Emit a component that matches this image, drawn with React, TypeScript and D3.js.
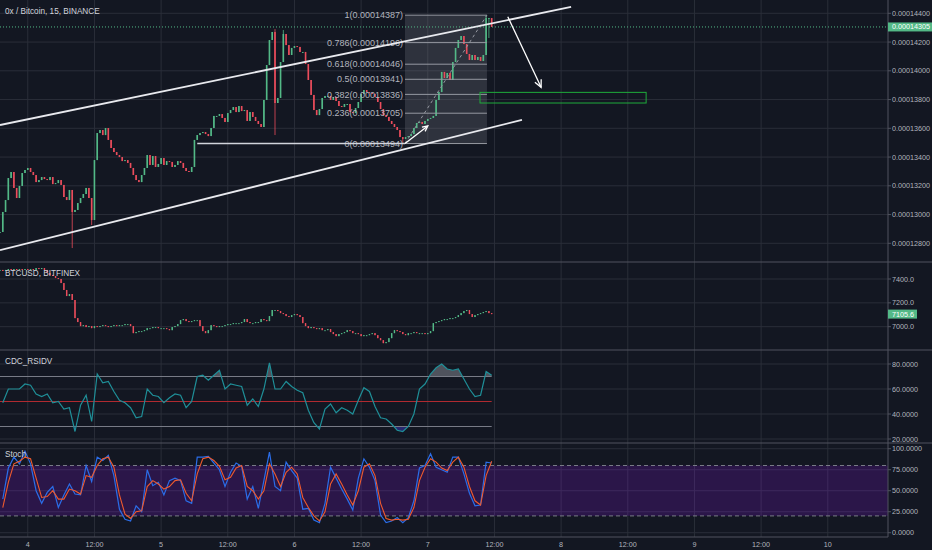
import * as d3 from 'd3'

// 0x/BTC closes, one per 30 min from day 3 19:00 (prices in 1e-8 BTC)
const mainClose = [
  12879, 13018, 13101, 13254, 13296, 13185, 13115, 13199, 13289, 13310,
  13324, 13296, 13275, 13226, 13240, 13261, 13247, 13240, 13261, 13212,
  13219, 13240, 13206, 13122, 13101, 13171, 13018, 13032, 13080, 13115,
  13143, 13185, 13115, 12962, 13379, 13567, 13588, 13553, 13602, 13519,
  13463, 13435, 13414, 13400, 13372, 13379, 13359, 13324, 13275, 13240,
  13226, 13275, 13324, 13414, 13345, 13407, 13331, 13352, 13393, 13345,
  13372, 13366, 13331, 13345, 13372, 13359, 13324, 13303, 13296, 13331,
  13519, 13553, 13567, 13574, 13560, 13546, 13602, 13686, 13686, 13699,
  13672, 13644, 13706, 13727, 13748, 13713, 13755, 13720, 13727, 13651,
  13713, 13679, 13651, 13630, 13609, 13797, 14040, 14214, 14270, 13776,
  13811, 14061, 14256, 14179, 14110, 14159, 14172, 14166, 14131, 14131,
  14047, 13936, 13832, 13727, 13692, 13734, 13811, 13825, 13825, 13797,
  13818, 13790, 13755, 13748, 13769, 13769, 13713, 13706, 13741, 13783,
  13839, 13866, 13852, 13846, 13839, 13818, 13783, 13734, 13692, 13679,
  13651, 13630, 13609, 13588, 13539, 13526, 13539, 13546, 13560, 13602,
  13637, 13644, 13630, 13651, 13665, 13672, 13686, 13797, 13852, 13992,
  13950, 13985, 13936, 14061, 14159, 14214, 14242, 14186, 14117, 14075,
  14110, 14075, 14096, 14068, 14110, 14367, 14367, 14305,
]
// long wicks worth keeping
const mainSpikes = [
  { i: 26, low: 12767 },
  { i: 33, low: 12927 },
  { i: 70, low: 13500 },
  { i: 99, high: 14290, low: 13553 },
  { i: 102, high: 14284 },
  { i: 145, low: 13494 },
  { i: 175, high: 14387 },
  { i: 176, low: 14228 },
]

const btcClose = [
  7476, 7467, 7476, 7484, 7476, 7484, 7476, 7484, 7476, 7484,
  7476, 7484, 7476, 7492, 7484, 7492, 7476, 7450, 7434, 7425,
  7408, 7400, 7366, 7308, 7257, 7274, 7224, 7072, 7039, 7005,
  7013, 6997, 7005, 6988, 7005, 6997, 7005, 7013, 7005, 6997,
  7005, 7013, 7005, 7013, 7013, 7022, 7022, 7005, 6946, 6955,
  6963, 6963, 6971, 6988, 6988, 6997, 6997, 6988, 6988, 6988,
  6980, 6971, 6997, 7005, 7022, 7055, 7064, 7047, 7039, 7047,
  7055, 7055, 7005, 6963, 6946, 6971, 7013, 7005, 6997, 7005,
  7005, 7013, 7022, 7022, 7030, 7030, 7030, 7039, 7064, 7039,
  7030, 7030, 7039, 7039, 7064, 7055, 7047, 7089, 7140, 7140,
  7131, 7114, 7106, 7089, 7081, 7097, 7106, 7097, 7081, 7030,
  7005, 6988, 6997, 6988, 6980, 6988, 6971, 6971, 6980, 6955,
  6938, 6921, 6938, 6946, 6955, 6971, 6963, 6946, 6946, 6938,
  6921, 6929, 6929, 6938, 6946, 6929, 6904, 6887, 6862, 6871,
  6904, 6946, 6971, 6963, 6955, 6938, 6929, 6946, 6946, 6955,
  6946, 6946, 6946, 6938, 6946, 6963, 7030, 7039, 7047, 7055,
  7064, 7064, 7072, 7072, 7081, 7097, 7114, 7131, 7140, 7106,
  7081, 7097, 7106, 7114, 7123, 7131, 7114, 7105.6,
]

// indicators, one per hour (at :30)
const rsiValues = [
  49, 60, 60, 60, 64, 63, 56, 54, 56, 49, 50, 44, 45, 26, 47, 55, 34, 72, 65, 66,
  58, 51, 49, 45, 37, 38, 60, 55, 54, 49, 53, 56, 55, 45, 50, 70, 71, 67, 71, 75,
  60, 64, 63, 62, 47, 52, 46, 60, 81, 60, 60, 66, 62, 59, 57, 43, 33, 28, 44, 48,
  41, 45, 43, 40, 51, 61, 58, 46, 37, 36, 32, 27, 26, 30, 40, 60, 64, 72, 77, 80,
  76, 75, 76, 68, 60, 54, 55, 74, 71,
]
const stochK = [
  40, 77, 90, 82, 97, 82, 50, 35, 48, 55, 30, 45, 58, 46, 45, 80, 61, 90, 86, 92,
  68, 28, 16, 14, 32, 25, 75, 56, 60, 45, 62, 65, 62, 38, 35, 90, 90, 91, 83, 75,
  55, 72, 83, 79, 40, 55, 29, 62, 96, 55, 50, 84, 74, 65, 28, 29, 15, 12, 35, 78,
  65, 52, 40, 27, 65, 88, 78, 62, 21, 12, 14, 18, 12, 18, 38, 77, 80, 94, 78, 75,
  72, 90, 90, 70, 47, 32, 33, 84, 83,
]
const stochD = [
  30, 60, 82, 85, 90, 88, 65, 42, 43, 50, 40, 40, 52, 50, 46, 68, 66, 80, 88, 90,
  78, 45, 22, 17, 25, 26, 55, 62, 58, 52, 55, 62, 63, 47, 38, 70, 88, 90, 86, 79,
  63, 66, 77, 80, 55, 50, 40, 50, 82, 70, 55, 72, 78, 70, 42, 30, 20, 14, 25, 58,
  70, 58, 45, 33, 50, 78, 82, 68, 35, 17, 15, 16, 15, 16, 30, 62, 78, 88, 84, 77,
  74, 84, 90, 78, 55, 38, 33, 68, 85,
]

const priceTicks = [14400, 14200, 14000, 13800, 13600, 13400, 13200, 13000, 12800]
const btcTicks = [7400, 7200, 7000]
const rsiTicks = [80, 60, 40, 20]
const stochTicks = [100, 75, 50, 25, 0]
const timeTicks = [0, 12, 24, 36, 48, 60, 72, 84, 96, 108, 120, 132, 144]
const timeLabels = ['4', '12:00', '5', '12:00', '6', '12:00', '7', '12:00', '8', '12:00', '9', '12:00', '10']

const fibLevels = [1, 0.786, 0.618, 0.5, 0.382, 0.236, 0]
const fibPrices = [14387, 14196, 14046, 13941, 13836, 13705, 13494]

const AXIS_X = 888
const BG = '#131722'
const GRID = '#2a2e39'
const SEP = '#50535e'
const TEXT = '#b2b5be'
const UP = '#53b987'
const DOWN = '#eb4d5c'
const FONT = '"Liberation Sans", Arial, sans-serif'

// hours since day 4 00:00
const x = d3.scaleLinear([-5, 155], [0, 888.9])
const yMain = d3.scaleLinear([12670, 14492.5], [262, 0])
const yBtc = d3.scaleLinear([6804.6, 7542.6], [350, 262])
const yRsi = d3.scaleLinear([16.8, 91.2], [443, 350])
const yStoch = d3.scaleLinear([-5.1, 106.8], [537, 443])

const candleTime = (i: number) => -5 + 0.5 * i
const hourTime = (j: number) => -4.5 + j
const sat = (v: number) => (v * 1e-8).toFixed(8)

function Candles({ closes, spikes, y, bw }: any) {
  return (
    <g>
      {closes.map((c: number, i: number) => {
        const o = i === 0 ? c : closes[i - 1]
        const sp = spikes.find((s: any) => s.i === i) || {}
        const hi = Math.max(o, c, sp.high ?? -Infinity)
        const lo = Math.min(o, c, sp.low ?? Infinity)
        const col = c >= o ? UP : DOWN
        const cx = x(candleTime(i))
        const top = y(Math.max(o, c))
        return (
          <g key={i}>
            <line x1={cx} x2={cx} y1={y(hi)} y2={y(lo)} stroke={col} strokeWidth={0.8} />
            <rect x={cx - bw / 2} width={bw} y={top} height={Math.max(1, y(Math.min(o, c)) - top)} fill={col} />
          </g>
        )
      })}
    </g>
  )
}

function arrowHead(x1: number, y1: number, x2: number, y2: number, len = 7, ang = 0.45) {
  const a = Math.atan2(y2 - y1, x2 - x1)
  return `M${x2 - len * Math.cos(a - ang)},${y2 - len * Math.sin(a - ang)}L${x2},${y2}L${x2 - len * Math.cos(a + ang)},${y2 - len * Math.sin(a + ang)}`
}

// drawings on the main pane, in time / price
const channelUp = [[-5, 13623], [97.8, 14444]]
const channelLow = [[-5, 12753], [88.95, 13658]]
const supportLine = [[30.5, 13494], [67.9, 13494]]
const fibSpan = [67.9, 82.65]
const arrowUp = [[67.9, 13494], [72.0, 13616]]
const arrowDown = [[86.4, 14376], [92.4, 13885]]
const targetBox = [[81.4, 13850], [111.3, 13776]]

export default function App() {
  const rsiLine = d3.line<number>().x((_, j) => x(hourTime(j))).y((d) => yRsi(d))(rsiValues) || undefined
  const kLine = d3.line<number>().x((_, j) => x(hourTime(j))).y((d) => yStoch(d))(stochK) || undefined
  const dLine = d3.line<number>().x((_, j) => x(hourTime(j))).y((d) => yStoch(d))(stochD) || undefined
  const overArea = d3.area<number>().x((_, j) => x(hourTime(j))).y0(yRsi(70)).y1((d) => yRsi(d))(rsiValues) || undefined
  const underArea = d3.area<number>().x((_, j) => x(hourTime(j))).y0(yRsi(30)).y1((d) => yRsi(d))(rsiValues) || undefined
  const lastX = x(hourTime(rsiValues.length - 1))
  const firstX = 0

  const fx0 = x(fibSpan[0])
  const fx1 = x(fibSpan[1])
  const pt = (p: number[]) => [x(p[0]), yMain(p[1])]
  const [a1s, a1e] = [pt(arrowUp[0]), pt(arrowUp[1])]
  const [a2s, a2e] = [pt(arrowDown[0]), pt(arrowDown[1])]
  const lastMain = mainClose[mainClose.length - 1]
  const lastBtc = btcClose[btcClose.length - 1]

  const axisLabel = (y: number, t: string, key: any) => (
    <g key={key}>
      <line x1={AXIS_X} x2={AXIS_X + 3} y1={y} y2={y} stroke={SEP} />
      <text x={892} y={y} dy="0.35em" fontSize={7.2} fill={TEXT}>{t}</text>
    </g>
  )

  return (
    <>
      <style>{'body{margin:0;background:#131722}'}</style>
      <svg width={932} height={550} style={{ display: 'block', fontFamily: FONT }}>
        <defs>
          <clipPath id="mainClip"><rect x={0} y={0} width={AXIS_X} height={262} /></clipPath>
          <clipPath id="btcClip"><rect x={0} y={262} width={AXIS_X} height={88} /></clipPath>
          <clipPath id="overClip"><rect x={0} y={350} width={AXIS_X} height={yRsi(70) - 350} /></clipPath>
          <clipPath id="underClip"><rect x={0} y={yRsi(30)} width={AXIS_X} height={443 - yRsi(30)} /></clipPath>
        </defs>
        <rect width={932} height={550} fill={BG} />

        {/* grid */}
        {timeTicks.map((t) => (
          <line key={t} x1={x(t)} x2={x(t)} y1={0} y2={537} stroke={GRID} />
        ))}
        {priceTicks.map((p) => <line key={p} x1={0} x2={AXIS_X} y1={yMain(p)} y2={yMain(p)} stroke={GRID} />)}
        {btcTicks.map((p) => <line key={p} x1={0} x2={AXIS_X} y1={yBtc(p)} y2={yBtc(p)} stroke={GRID} />)}
        {rsiTicks.map((p) => <line key={p} x1={0} x2={AXIS_X} y1={yRsi(p)} y2={yRsi(p)} stroke={GRID} />)}
        {stochTicks.map((p) => <line key={p} x1={0} x2={AXIS_X} y1={yStoch(p)} y2={yStoch(p)} stroke={GRID} />)}

        {/* main pane */}
        <text x={5} y={13.5} fontSize={8.2} fill="#d1d4dc">0x / Bitcoin, 15, BINANCE</text>
        <g clipPath="url(#mainClip)">
          <rect x={fx0} width={fx1 - fx0} y={yMain(fibPrices[0])} height={yMain(fibPrices[6]) - yMain(fibPrices[0])} fill="#787b86" opacity={0.28} />
          <Candles closes={mainClose} spikes={mainSpikes} y={yMain} bw={1.6} />
          <line x1={0} x2={AXIS_X} y1={yMain(lastMain)} y2={yMain(lastMain)} stroke={UP} strokeDasharray="1,2" />
          {fibLevels.map((l, k) => (
            <g key={l}>
              <line x1={fx0} x2={fx1} y1={yMain(fibPrices[k])} y2={yMain(fibPrices[k])} stroke="#9598a1" />
              <text x={fx0 - 2} y={yMain(fibPrices[k])} dy="0.35em" textAnchor="end" fontSize={9} fill={TEXT}>
                {`${l}(${sat(fibPrices[k])})`}
              </text>
            </g>
          ))}
          <line x1={fx0} y1={yMain(fibPrices[6])} x2={fx1} y2={yMain(fibPrices[0])} stroke="#9598a1" strokeDasharray="3,3" />
          <line x1={x(channelUp[0][0])} y1={yMain(channelUp[0][1])} x2={x(channelUp[1][0])} y2={yMain(channelUp[1][1])} stroke="#e8e9ee" strokeWidth={1.8} />
          <line x1={x(channelLow[0][0])} y1={yMain(channelLow[0][1])} x2={x(channelLow[1][0])} y2={yMain(channelLow[1][1])} stroke="#e8e9ee" strokeWidth={1.8} />
          <line x1={x(supportLine[0][0])} y1={yMain(supportLine[0][1])} x2={x(supportLine[1][0])} y2={yMain(supportLine[1][1])} stroke="#d1d4dc" strokeWidth={1.5} />
          <line x1={a1s[0]} y1={a1s[1]} x2={a1e[0]} y2={a1e[1]} stroke="#ffffff" strokeWidth={1.3} />
          <path d={arrowHead(a1s[0], a1s[1], a1e[0], a1e[1], 6)} fill="none" stroke="#ffffff" strokeWidth={1.3} />
          <line x1={a2s[0]} y1={a2s[1]} x2={a2e[0]} y2={a2e[1]} stroke="#ffffff" strokeWidth={1.3} />
          <path d={arrowHead(a2s[0], a2s[1], a2e[0], a2e[1], 8)} fill="none" stroke="#ffffff" strokeWidth={1.3} />
          <rect x={x(targetBox[0][0])} y={yMain(targetBox[0][1])} width={x(targetBox[1][0]) - x(targetBox[0][0])} height={yMain(targetBox[1][1]) - yMain(targetBox[0][1])} fill="none" stroke="#1fab3a" />
        </g>

        {/* BTCUSD pane */}
        <g clipPath="url(#btcClip)">
          <Candles closes={btcClose} spikes={[]} y={yBtc} bw={1.4} />
        </g>
        <text x={5} y={276} fontSize={8.2} fill="#d1d4dc">BTCUSD, BITFINEX</text>

        {/* RSI pane */}
        <path d={overArea} fill="#787b86" opacity={0.6} clipPath="url(#overClip)" />
        <path d={underArea} fill="#2f2f8a" opacity={0.75} clipPath="url(#underClip)" />
        <line x1={firstX} x2={lastX} y1={yRsi(70)} y2={yRsi(70)} stroke="#787b86" />
        <line x1={firstX} x2={lastX} y1={yRsi(30)} y2={yRsi(30)} stroke="#787b86" />
        <line x1={firstX} x2={lastX} y1={yRsi(50)} y2={yRsi(50)} stroke="#b02a30" strokeWidth={1.2} />
        <path d={rsiLine} fill="none" stroke="#1f8f98" strokeWidth={1.2} />
        <text x={5} y={364} fontSize={8.2} fill="#d1d4dc">CDC_RSIDV</text>

        {/* Stoch pane */}
        <rect x={0} width={AXIS_X} y={yStoch(80)} height={yStoch(20) - yStoch(80)} fill="#9915ff" opacity={0.18} />
        <line x1={0} x2={AXIS_X} y1={yStoch(80)} y2={yStoch(80)} stroke="#787b86" strokeDasharray="4,3" />
        <line x1={0} x2={AXIS_X} y1={yStoch(20)} y2={yStoch(20)} stroke="#787b86" strokeDasharray="4,3" />
        <path d={kLine} fill="none" stroke="#2b6de8" strokeWidth={1.2} />
        <path d={dLine} fill="none" stroke="#ef5a2e" strokeWidth={1.1} />
        <text x={5} y={457} fontSize={8.2} fill="#d1d4dc">Stoch</text>

        {/* separators and axes */}
        <line x1={0} x2={932} y1={262} y2={262} stroke={SEP} />
        <line x1={0} x2={932} y1={350} y2={350} stroke={SEP} />
        <line x1={0} x2={932} y1={443} y2={443} stroke={SEP} />
        <line x1={0} x2={AXIS_X} y1={537} y2={537} stroke={SEP} />
        <line x1={AXIS_X} x2={AXIS_X} y1={0} y2={537} stroke={SEP} />

        {priceTicks.map((p) => axisLabel(yMain(p), sat(p), p))}
        {btcTicks.map((p) => axisLabel(yBtc(p), p.toFixed(1), p))}
        {rsiTicks.map((p) => axisLabel(yRsi(p), p.toFixed(4), p))}
        {stochTicks.map((p) => axisLabel(yStoch(p), p.toFixed(4), p))}

        <rect x={AXIS_X} y={yMain(lastMain) - 4.5} width={44} height={9} fill={UP} />
        <text x={892} y={yMain(lastMain)} dy="0.35em" fontSize={7.2} fill="#ffffff">{sat(lastMain)}</text>
        <rect x={AXIS_X} y={yBtc(lastBtc) - 4.5} width={29} height={9} fill={UP} />
        <text x={892} y={yBtc(lastBtc)} dy="0.35em" fontSize={7.2} fill="#ffffff">{lastBtc.toFixed(1)}</text>

        {timeTicks.map((t, k) => (
          <text key={t} x={x(t)} y={547} textAnchor="middle" fontSize={7.2} fill={TEXT}>{timeLabels[k]}</text>
        ))}
      </svg>
    </>
  )
}
